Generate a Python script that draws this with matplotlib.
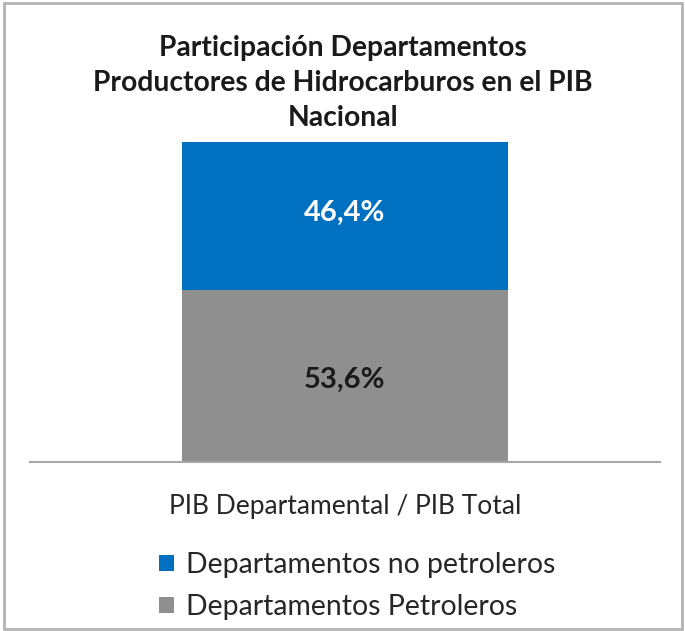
import matplotlib
matplotlib.use("Agg")
import matplotlib.pyplot as plt
from matplotlib.patches import Rectangle

categories = ["PIB Departamental / PIB Total"]
series_names = ["Departamentos Petroleros", "Departamentos no petroleros"]
petroleros = [53.6]
no_petroleros = [46.4]
value_labels_petro = ["53,6%"]
value_labels_no = ["46,4%"]
title = "Participación Departamentos\nProductores de Hidrocarburos en el PIB\nNacional"

plt.rcParams['font.family'] = ['Lato', 'DejaVu Sans']

W, H = 685, 631
fig = plt.figure(figsize=(W / 100, H / 100), dpi=100)
fig.patch.set_facecolor('white')

ax = fig.add_axes([30 / W, (H - 462) / H, 630 / W, (462 - 142) / H])
x = [0]
b1 = ax.bar(x, petroleros, width=0.517, color='#8f8f8f', label=series_names[0])
b2 = ax.bar(x, no_petroleros, bottom=petroleros, width=0.517, color='#0071c1', label=series_names[1])
ax.set_xlim(-0.5, 0.5)
ax.set_ylim(0, 100)

for rect, lab in zip(b1, value_labels_petro):
    ax.text(rect.get_x() + rect.get_width() / 2, rect.get_y() + rect.get_height() * 0.48, lab,
            ha='center', va='center', fontsize=21, fontweight='bold', color='#1a1a1a')
for rect, lab in zip(b2, value_labels_no):
    ax.text(rect.get_x() + rect.get_width() / 2, rect.get_y() + rect.get_height() * 0.52, lab,
            ha='center', va='center', fontsize=21, fontweight='bold', color='white')

for s in ['top', 'right', 'left']:
    ax.spines[s].set_visible(False)
ax.spines['bottom'].set_color('#a6a6a6')
ax.spines['bottom'].set_linewidth(1.5)
ax.set_yticks([])
ax.set_xticks(x)
ax.set_xticklabels(categories, fontsize=19, color='#262626')
ax.tick_params(axis='x', length=0, pad=23)

fig.text(343 / W, 1 - 83 / H, title, ha='center', va='center', fontsize=20.3,
         fontweight='bold', color='#1a1a1a', linespacing=1.42)

handles = [b2, b1]
leg = fig.legend(handles, [series_names[1], series_names[0]], loc='upper left',
                 bbox_to_anchor=(148 / W, 1 - 541 / H), frameon=False, fontsize=20.4,
                 handlelength=0.5, handleheight=0.5, handletextpad=0.45,
                 labelspacing=0.55, labelcolor='#262626', borderaxespad=0)

fig.add_artist(Rectangle((3.5 / W, 2.5 / H), (682 - 3.5) / W, (628.5 - 2.5) / H,
                         transform=fig.transFigure, fill=False, edgecolor='#b3b3b3', linewidth=2))

fig.savefig('out.png', dpi=100, facecolor='white')
